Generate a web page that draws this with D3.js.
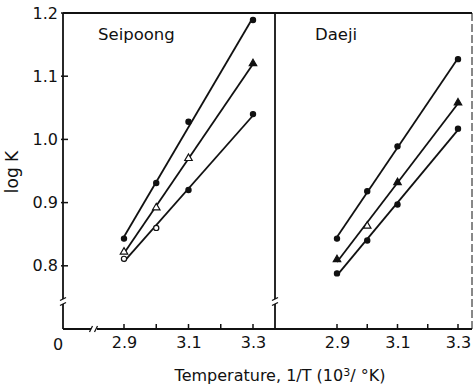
<!DOCTYPE html>
<html><head><meta charset="utf-8">
<script src="https://cdn.jsdelivr.net/npm/d3@7/dist/d3.min.js"></script>
<style>body{margin:0;background:#fff}svg{display:block}text{font-family:"DejaVu Sans",Verdana,sans-serif;fill:#111}</style>
</head><body><svg id="c" width="474" height="385"></svg>
<script>
const xValues = [2.9, 3.0, 3.1, 3.3];
const panels = ["Seipoong", "Daeji"];
const seipoongTop = [0.843, 0.931, 1.028, 1.189];
const seipoongMid = [0.822, 0.892, 0.970, 1.120];
const seipoongLow = [0.811, 0.860, 0.920, 1.040];
const daejiTop = [0.843, 0.918, 0.989, 1.127];
const daejiMid = [0.810, 0.863, 0.932, 1.058];
const daejiLow = [0.788, 0.840, 0.897, 1.017];
const yTicks = [0.8, 0.9, 1.0, 1.1, 1.2];
const xTicks = [2.9, 3.0, 3.1, 3.2, 3.3];
const xLabels = [2.9, 3.1, 3.3];
const markerTypes = ["circle", "triangle", "circle"];

const svg = d3.select("#c");
const ink = "#111";
const L = 63, R = 472, T = 13, B = 329, D = 275;
const y = d3.scaleLinear().domain([0.7, 1.2]).range([B, T]);
const xL = d3.scaleLinear().domain([2.9, 3.3]).range([124, 253]);
const xR = d3.scaleLinear().domain([2.9, 3.3]).range([337, 458]);

// frame
const g = svg.append("g").attr("stroke", ink).attr("fill", "none").attr("stroke-width", 1.8);
g.append("line").attr("x1", L).attr("x2", R).attr("y1", T).attr("y2", T);
g.append("line").attr("x1", L).attr("x2", R).attr("y1", B).attr("y2", B);
g.append("line").attr("x1", L).attr("x2", L).attr("y1", T).attr("y2", B);
g.append("line").attr("x1", D).attr("x2", D).attr("y1", T).attr("y2", B);
g.append("line").attr("x1", R).attr("x2", R).attr("y1", T).attr("y2", B).attr("stroke-width", 1).attr("stroke-dasharray", "8,3");

// axis breaks
function vbreak(x, yy) {
  svg.append("rect").attr("x", x - 3).attr("y", yy - 3).attr("width", 6).attr("height", 5).attr("fill", "#fff");
  [-3, 2].forEach(o => svg.append("line").attr("x1", x - 3).attr("x2", x + 3).attr("y1", yy + o + 1.5).attr("y2", yy + o - 1.5).attr("stroke", ink).attr("stroke-width", 1.3));
}
function hbreak(x, yy) {
  svg.append("rect").attr("x", x - 3).attr("y", yy - 3).attr("width", 6).attr("height", 6).attr("fill", "#fff");
  [-3, 2].forEach(o => svg.append("line").attr("x1", x + o - 1.5).attr("x2", x + o + 1.5).attr("y1", yy + 3).attr("y2", yy - 3).attr("stroke", ink).attr("stroke-width", 1.3));
}
vbreak(L, 302); vbreak(D, 302); hbreak(94, B);

// y axis ticks
const yAxis = d3.axisLeft(y).tickValues(yTicks).tickSize(0).tickPadding(5).tickFormat(d3.format(".1f"));
const ya = svg.append("g").attr("transform", `translate(${L},0)`).call(yAxis);
ya.select(".domain").remove();
ya.selectAll("text").style("font-size", "16px").style("font-family", '"DejaVu Sans",sans-serif').attr("fill", ink);
yTicks.forEach(v => svg.append("line").attr("x1", L - 2).attr("x2", L + 5).attr("y1", y(v)).attr("y2", y(v)).attr("stroke", ink).attr("stroke-width", 1.5));

// x axes
[xL, xR].forEach(xs => {
  const ax = d3.axisBottom(xs).tickValues(xTicks).tickSize(0).tickPadding(8).tickFormat(d => xLabels.includes(d) ? d3.format(".1f")(d) : "");
  const a = svg.append("g").attr("transform", `translate(0,${B})`).call(ax);
  a.select(".domain").remove();
  a.selectAll("text").style("font-size", "16px").style("font-family", '"DejaVu Sans",sans-serif').attr("fill", ink);
  xTicks.forEach(v => svg.append("line").attr("x1", xs(v)).attr("x2", xs(v)).attr("y1", B - 5).attr("y2", B).attr("stroke", ink).attr("stroke-width", 1.5));
});
svg.append("text").attr("x", 58).attr("y", 350).attr("text-anchor", "middle").style("font-size", "16px").text("0");

// labels
svg.append("text").attr("x", 12).attr("y", 172).attr("transform", "rotate(-90,12,172)").attr("dy", "0.35em").attr("text-anchor", "middle").style("font-size", "17px").text("log K");
svg.append("text").attr("x", 280).attr("y", 381).attr("text-anchor", "middle").style("font-size", "16px").html('Temperature, 1/T (10<tspan dy="-5" style="font-size:11px">3</tspan><tspan dy="5">/ °K)</tspan>');
svg.append("text").attr("x", 98).attr("y", 40).style("font-size", "16.5px").text(panels[0]);
svg.append("text").attr("x", 315).attr("y", 40).style("font-size", "16.5px").text(panels[1]);

// series
function fit(vals) {
  const mx = d3.mean(xValues), my = d3.mean(vals);
  const b = d3.sum(xValues, (x, i) => (x - mx) * (vals[i] - my)) / d3.sum(xValues, x => (x - mx) ** 2);
  return x => my + b * (x - mx);
}
function drawPanel(xs, series, openFlags) {
  series.forEach((vals, si) => {
    const f = fit(vals);
    svg.append("line").attr("x1", xs(2.9)).attr("x2", xs(3.3)).attr("y1", y(f(2.9))).attr("y2", y(f(3.3))).attr("stroke", ink).attr("stroke-width", 1.8);
    vals.forEach((v, i) => {
      const cx = xs(xValues[i]), cy = y(v);
      const open = openFlags[si][i];
      if (markerTypes[si] === "circle") {
        svg.append("circle").attr("cx", cx).attr("cy", cy).attr("r", 2.6).attr("fill", open ? "#fff" : ink).attr("stroke", ink).attr("stroke-width", 1.2);
      } else {
        svg.append("path").attr("d", d3.symbol(d3.symbolTriangle, 24)()).attr("transform", `translate(${cx},${cy})`).attr("fill", open ? "#fff" : ink).attr("stroke", ink).attr("stroke-width", 1.2);
      }
    });
  });
}
drawPanel(xL, [seipoongTop, seipoongMid, seipoongLow], [[false,false,false,false],[true,true,true,false],[true,true,false,false]]);
drawPanel(xR, [daejiTop, daejiMid, daejiLow], [[false,false,false,false],[false,true,false,false],[false,false,false,false]]);
</script></body></html>
